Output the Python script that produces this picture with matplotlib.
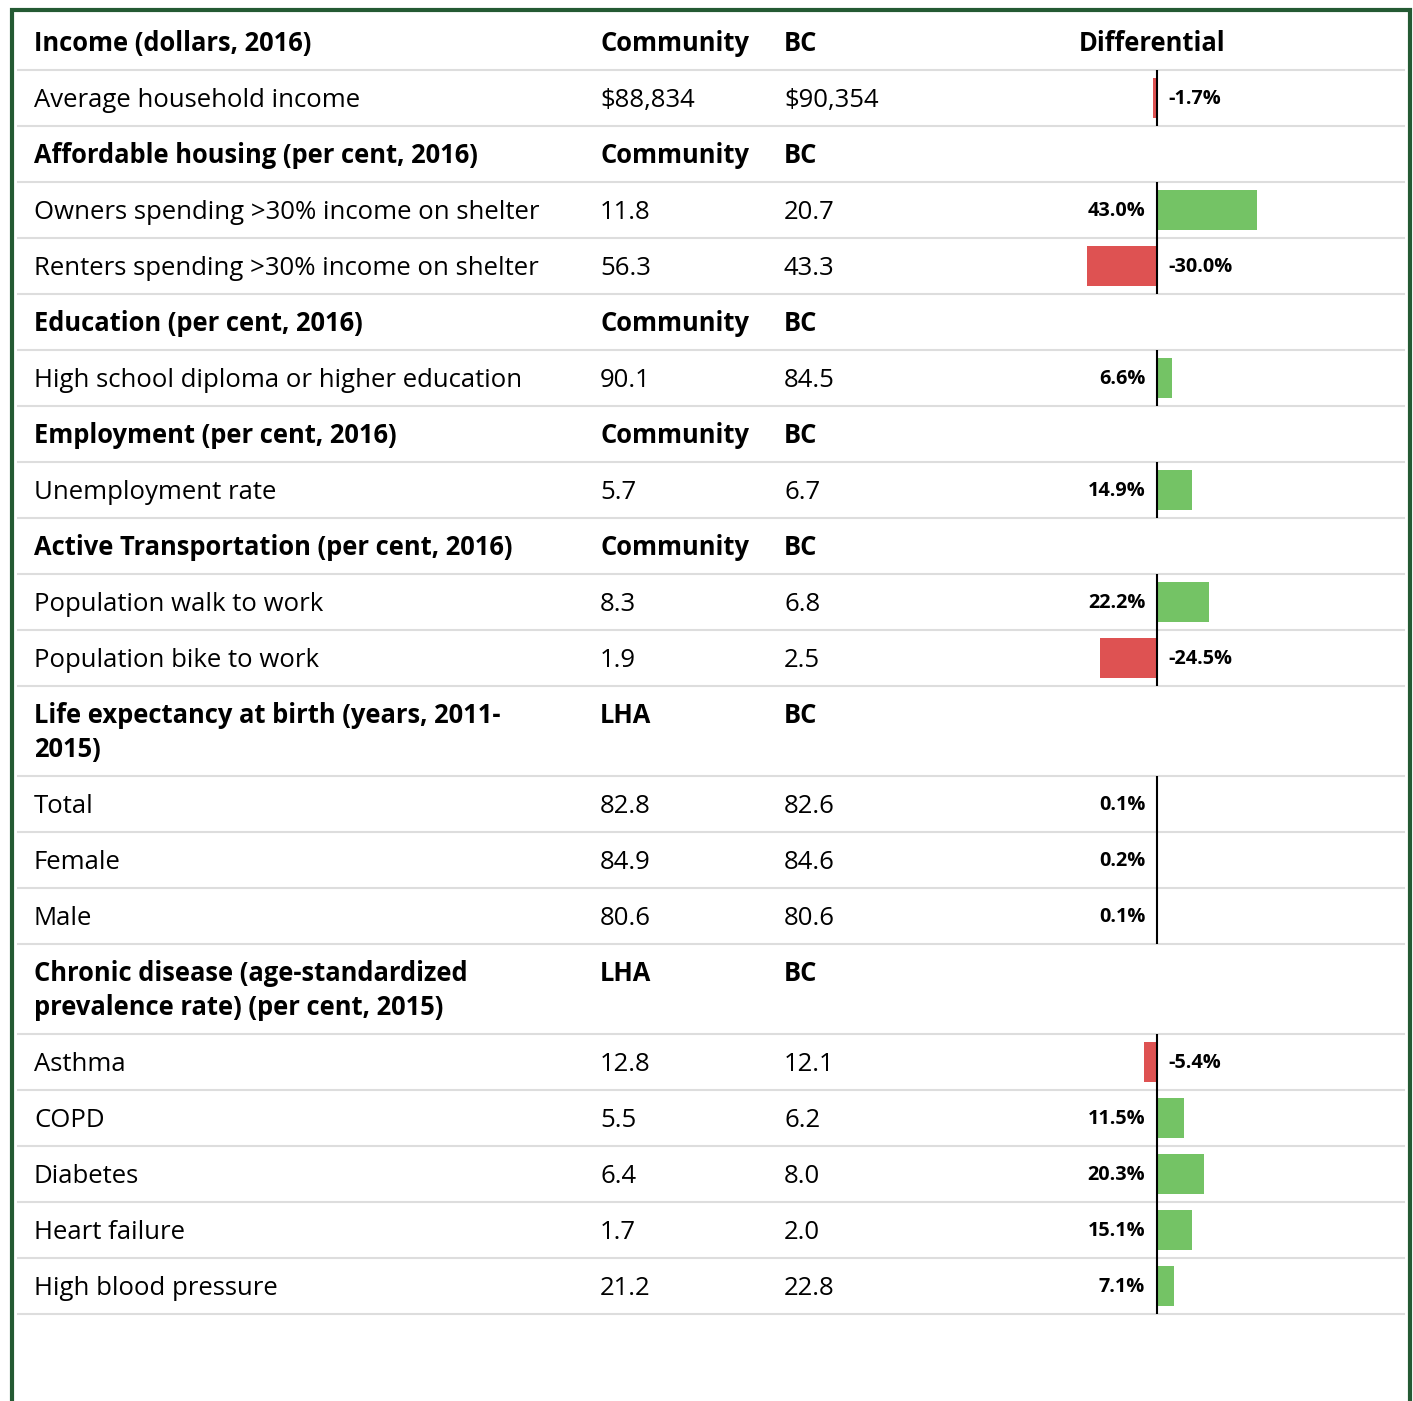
import matplotlib
matplotlib.use("Agg")
import matplotlib.pyplot as plt

# --- dane tabeli ---
labels = [
    "Income (dollars, 2016)", "Average household income",
    "Affordable housing (per cent, 2016)", "Owners spending >30% income on shelter",
    "Renters spending >30% income on shelter",
    "Education (per cent, 2016)", "High school diploma or higher education",
    "Employment (per cent, 2016)", "Unemployment rate",
    "Active Transportation (per cent, 2016)", "Population walk to work", "Population bike to work",
    "Life expectancy at birth (years, 2011-\n2015)", "Total", "Female", "Male",
    "Chronic disease (age-standardized\nprevalence rate) (per cent, 2015)",
    "Asthma", "COPD", "Diabetes", "Heart failure", "High blood pressure",
]
community = [
    "Community", "$88,834", "Community", "11.8", "56.3", "Community", "90.1",
    "Community", "5.7", "Community", "8.3", "1.9", "LHA", "82.8", "84.9", "80.6",
    "LHA", "12.8", "5.5", "6.4", "1.7", "21.2",
]
bc = [
    "BC", "$90,354", "BC", "20.7", "43.3", "BC", "84.5", "BC", "6.7", "BC",
    "6.8", "2.5", "BC", "82.6", "84.6", "80.6", "BC", "12.1", "6.2", "8.0", "2.0", "22.8",
]
differential = [
    None, -1.7, None, 43.0, -30.0, None, 6.6, None, 14.9, None, 22.2, -24.5,
    None, 0.1, 0.2, 0.1, None, -5.4, 11.5, 20.3, 15.1, 7.1,
]
is_header = [d is None for d in differential]

W, H = 1413, 1401
GREEN = "#74c365"
RED = "#de5252"
BORDER = "#245a33"
FONT = "Open Sans"
FS_REG, FS_BOLD, FS_LAB = 18.5, 18.4, 14.3

fig = plt.figure(figsize=(W / 100, H / 100), dpi=100)
ax = fig.add_axes([0, 0, 1, 1])
ax.set_xlim(0, W)
ax.set_ylim(H, 0)
ax.axis("off")

# os X dla słupków: zero na x=1157, ~2.33 px na 1%
X0, PX = 1157, 2.33
bx_left, bx_right = 1000, 1404
ax_bar = fig.add_axes([bx_left / W, 0, (bx_right - bx_left) / W, 1])
ax_bar.set_xlim(-(X0 - bx_left) / PX, (bx_right - X0) / PX)
ax_bar.set_ylim(H, 0)
ax_bar.axis("off")
ax_bar.patch.set_alpha(0)

# ramka (bez dolnej krawędzi)
ax.plot([12, 12, 1410, 1410], [H, 9.5, 9.5, H], color=BORDER, lw=3, solid_joinstyle="miter")

top = 14
for i, lab in enumerate(labels):
    nlines = lab.count("\n") + 1
    h = 56 if nlines == 1 else 90
    weight = "bold" if is_header[i] else "normal"
    fs = FS_BOLD if is_header[i] else FS_REG
    base = top + 37
    for j, line in enumerate(lab.split("\n")):
        ax.text(34, base + 34 * j, line, fontsize=fs, family=FONT, weight=weight, va="baseline")
    ax.text(600, base, community[i], fontsize=fs, family=FONT, weight=weight, va="baseline")
    ax.text(784, base, bc[i], fontsize=fs, family=FONT, weight=weight, va="baseline")
    if i == 0:
        ax.text(1079, base, "Differential", fontsize=FS_BOLD, family=FONT, weight="bold", va="baseline")
    d = differential[i]
    if d is not None:
        yc = top + h / 2
        ax_bar.barh(yc, d, height=40, color=GREEN if d > 0 else RED)
        ax_bar.vlines(0, top, top + h, color="black", lw=1.5)
        lab_y = top + 34
        if d > 0:
            ax_bar.annotate(f"{d:.1f}%", (0, lab_y), xytext=(-8.5, 0), textcoords="offset points",
                            ha="right", va="baseline", fontsize=FS_LAB, family=FONT, weight="bold")
        else:
            ax_bar.annotate(f"{d:.1f}%", (0, lab_y), xytext=(8, 0), textcoords="offset points",
                            ha="left", va="baseline", fontsize=FS_LAB, family=FONT, weight="bold")
    top += h
    ax.plot([18, 1404], [top, top], color="#dddddd", lw=1.5)

fig.savefig("out.png", dpi=100)
